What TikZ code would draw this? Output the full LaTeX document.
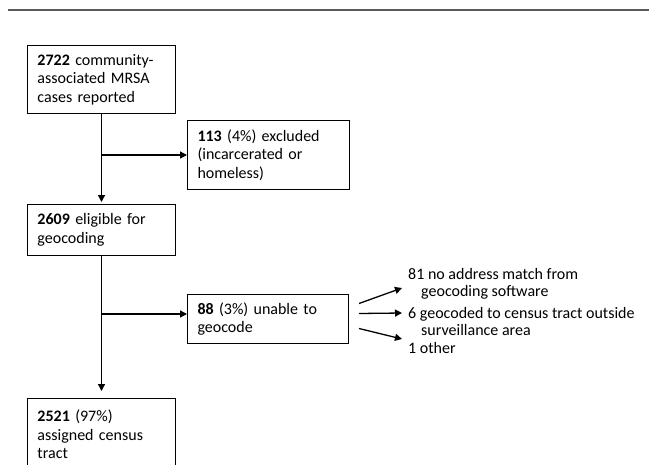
\documentclass[tikz,border=0pt]{standalone}
\usepackage{fontspec}
\setmainfont{Carlito}
\usetikzlibrary{arrows.meta}
\begin{document}
\begin{tikzpicture}[x=1pt,y=1pt]
    \tikzstyle{line} = [-{Triangle[length=7pt,width=7pt]}, line width=1.3pt]
    \tikzstyle{rec} = [rectangle, draw=black, line width=1pt, align=left,
        anchor=north west, inner xsep=10pt, inner ysep=0pt,
        font=\fontsize{16}{18.5}\selectfont]
    \tikzstyle{note} = [anchor=west, inner sep=0pt, align=left,
        font=\fontsize{16}{17.5}\selectfont]

    \clip (0,0) rectangle (649,-464);
    \useasboundingbox (0,0) rectangle (649,-464);
    \draw[black!65, line width=1.5pt] (8,-10) -- (649,-10);

    \node(reported) [rec, text width=128pt, minimum width=148pt,
        minimum height=68pt] at (27,-45)
        {\textbf{2722} community-\\associated MRSA\\cases reported};
    \node(excluded) [rec, text width=142pt, minimum width=162pt,
        minimum height=69pt] at (187,-120)
        {\textbf{113} (4\%) excluded\\(incarcerated or\\homeless)};
    \node(eligible) [rec, text width=128pt, minimum width=148pt,
        minimum height=51pt] at (27,-204)
        {\textbf{2609} eligible for\\geocoding};
    \node(unable) [rec, text width=141pt, minimum width=161pt,
        minimum height=49pt] at (187,-294)
        {\textbf{88} (3\%) unable to\\geocode};
    \node(assigned) [rec, text width=128pt, minimum width=148pt,
        minimum height=72pt] at (27,-398)
        {\textbf{2521} (97\%)\\assigned census\\tract};

    \node(nomatch) [note] at (408,-284)
        {81 no address match from\\\hspace*{13pt}geocoding software};
    \node(outside) [note] at (408,-321.5)
        {6 geocoded to census tract outside\\\hspace*{13pt}surveillance area};
    \node(other) [note] at (408,-348) {1 other};

    \coordinate(unablein) at ([yshift=5pt]unable.west);
    \coordinate(toexcl) at (reported.south |- excluded.west);
    \coordinate(tounable) at (eligible.south |- unablein);
    \coordinate(nomatchtip) at (402,-288);
    \coordinate(outsidetip) at (402,-313);
    \coordinate(othertip) at (402,-339);

    \draw[line, shorten >=2pt] (reported.south) -- (eligible.north);
    \draw[line] (toexcl) -- (excluded.west);
    \draw[line, shorten >=7pt] (eligible.south) -- (assigned.north);
    \draw[line] (tounable) -- (unablein);
    \draw[line] ([xshift=10pt,yshift=15.5pt]unable.east) -- (nomatchtip);
    \draw[line] ([xshift=10pt,yshift=5.5pt]unable.east) -- (outsidetip);
    \draw[line] ([xshift=10pt,yshift=-9.5pt]unable.east) -- (othertip);
\end{tikzpicture}
\end{document}
